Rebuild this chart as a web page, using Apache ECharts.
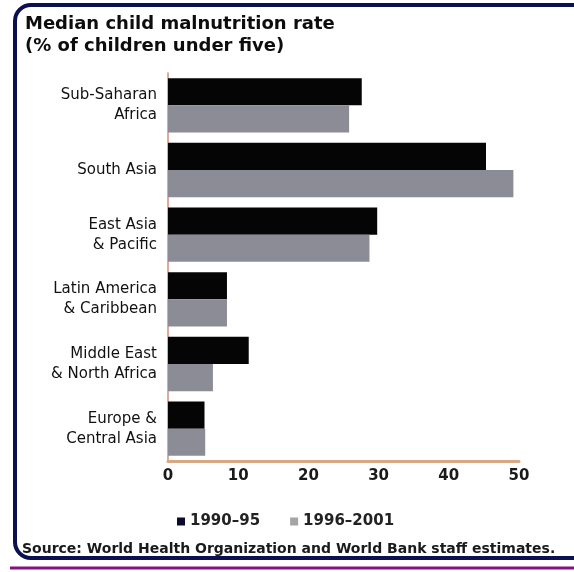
<!DOCTYPE html>
<html>
<head>
<meta charset="utf-8">
<style>
  html, body { margin: 0; padding: 0; background: #ffffff; }
  #chart { width: 574px; height: 572px; }
</style>
<script src="https://cdn.jsdelivr.net/npm/echarts@6/dist/echarts.min.js"></script>
</head>
<body>
<div id="chart"></div>
<script>
// Regions, top to bottom
const regions = [
  'Sub-Saharan\nAfrica',
  'South Asia',
  'East Asia\n& Pacific',
  'Latin America\n& Caribbean',
  'Middle East\n& North Africa',
  'Europe &\nCentral Asia'
];
// Median child malnutrition rate, % of children under five
const rate1990 = [27.6, 45.3, 29.8, 8.4, 11.5, 5.2];
const rate1996 = [25.8, 49.2, 28.7, 8.4, 6.4, 5.3];
const periodNames = ['1990–95', '1996–2001'];
const xTicks = [0, 10, 20, 30, 40, 50];

const chart = echarts.init(document.getElementById('chart'), null, { renderer: 'canvas' });

const font = 'DejaVu Sans, Verdana, sans-serif';

chart.setOption({
  animation: false,
  backgroundColor: '#ffffff',
  title: {
    text: 'Median child malnutrition rate\n(% of children under five)',
    left: 20,
    top: 8,
    textStyle: {
      fontFamily: font,
      fontWeight: 'bold',
      fontSize: 18,
      lineHeight: 22,
      color: '#0d0d0d'
    }
  },
  legend: {
    data: [
      { name: periodNames[0], itemStyle: { color: '#0b0b2e' } },
      { name: periodNames[1], itemStyle: { color: '#a4a4a6' } }
    ],
    left: 172,
    top: 509,
    icon: 'rect',
    itemWidth: 8,
    itemHeight: 8,
    itemGap: 30,
    textStyle: {
      fontFamily: font,
      fontWeight: 'bold',
      fontSize: 15,
      color: '#222222'
    }
  },
  grid: {
    left: 168,
    right: 55,
    top: 73,
    bottom: 111,
    containLabel: false
  },
  xAxis: {
    type: 'value',
    min: xTicks[0],
    max: xTicks[xTicks.length - 1],
    interval: 10,
    axisLine: { show: true, lineStyle: { color: '#d8a882', width: 3 } },
    axisTick: { show: false },
    splitLine: { show: false },
    axisLabel: {
      margin: 8,
      fontFamily: font,
      fontWeight: 'bold',
      fontSize: 15,
      color: '#1a1a1a'
    }
  },
  yAxis: {
    type: 'category',
    data: regions,
    inverse: true,
    axisLine: { show: true, lineStyle: { color: '#d48c78', width: 1.5 } },
    axisTick: { show: false },
    axisLabel: {
      margin: 11,
      fontFamily: font,
      fontSize: 15,
      lineHeight: 20,
      color: '#111111',
      align: 'right'
    }
  },
  series: [
    {
      name: periodNames[0],
      type: 'bar',
      data: rate1990,
      barGap: '0%',
      barCategoryGap: '16%',
      itemStyle: { color: '#050505' }
    },
    {
      name: periodNames[1],
      type: 'bar',
      data: rate1996,
      itemStyle: { color: '#8c8c96' }
    }
  ],
  graphic: [
    {
      type: 'rect',
      shape: { x: 15, y: 5, width: 580, height: 553, r: 16 },
      style: { fill: 'none', stroke: '#0b1050', lineWidth: 4 },
      z: 10
    },
    {
      type: 'line',
      shape: { x1: 10, y1: 568, x2: 574, y2: 568 },
      style: { stroke: '#85127f', lineWidth: 3 },
      z: 10
    },
    {
      type: 'text',
      left: 22,
      top: 542,
      style: {
        text: 'Source: World Health Organization and World Bank staff estimates.',
        font: 'bold 14px DejaVu Sans, Verdana, sans-serif',
        fill: '#1a1a1a'
      }
    }
  ]
});
</script>
</body>
</html>
